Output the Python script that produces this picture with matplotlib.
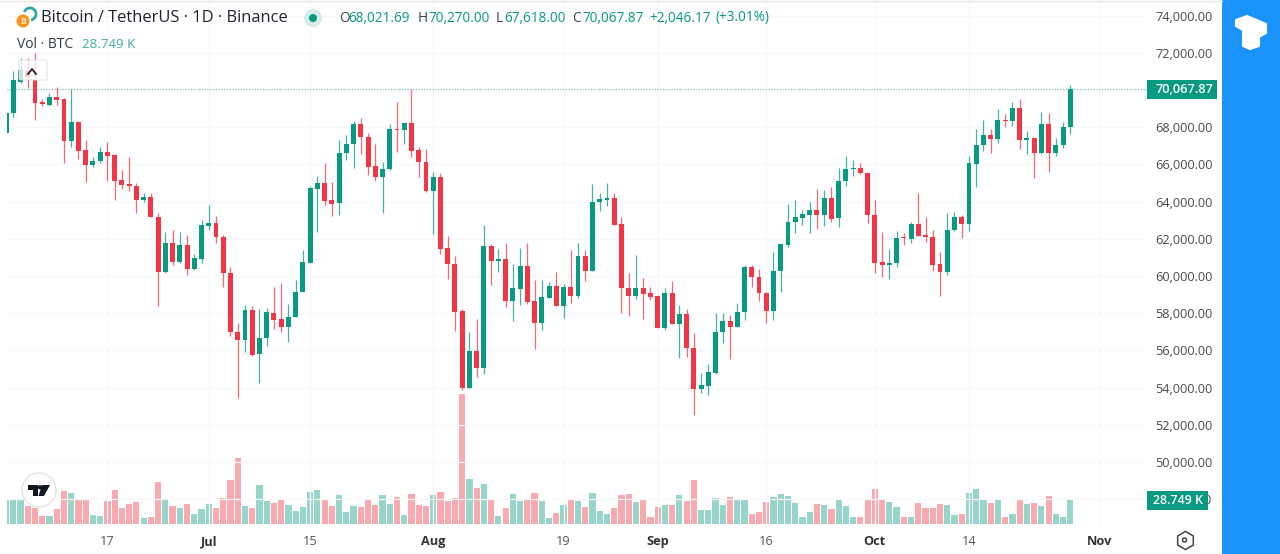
import matplotlib
matplotlib.use("Agg")
import matplotlib.pyplot as plt
from matplotlib.patches import Arc, Circle, FancyBboxPatch, Polygon, Rectangle
import numpy as np

# daily candles, oldest first
opens = [67690, 68750, 70450, 71040, 70540, 69340, 69190, 69600, 69500, 67280, 68260, 66770,
         65970, 66170, 66670, 66490, 65140, 64950, 64840, 64090, 64230, 63150, 60220, 61790,
         60770, 61670, 60360, 60910, 62690, 62870, 62120, 60180, 57010, 56560, 58170, 55790,
         56650, 58030, 57690, 57280, 57780, 59160, 60720, 64680, 64980, 64090, 63910, 66600,
         67100, 68170, 67490, 65910, 65300, 65730, 67900, 67850, 68210, 66770, 66130, 64590,
         65340, 61490, 60650, 58120, 53960, 55970, 55070, 61630, 60820, 60900, 58670, 59300,
         60560, 58660, 57470, 58800, 59480, 58390, 59430, 58940, 61090, 60290, 63980, 64100,
         64180, 62780, 59370, 58940, 59340, 59070, 58940, 57220, 59090, 57420, 57940, 56150,
         53910, 54090, 54770, 56970, 57600, 57280, 58050, 60470, 59950, 59090, 58140, 60250,
         61670, 62900, 63140, 63300, 63550, 63280, 64210, 63100, 65130, 65730, 65810, 65560,
         63300, 60770, 60610, 60680, 62080, 61970, 62800, 62200, 62120, 60630, 60230, 62470,
         63190, 62800, 66020, 67030, 67580, 67370, 68410, 68330, 69030, 67330, 67400, 66600,
         68150, 66630, 67030, 68021.69]
highs = [68800, 71040, 71700, 71700, 71970, 69520, 69820, 70180, 69550, 70040, 68350, 67310,
         66380, 66950, 67220, 66560, 65700, 66420, 65020, 64480, 64480, 63370, 62380, 62470,
         62350, 62200, 61180, 63010, 63820, 63230, 62200, 60470, 57490, 58440, 58390, 58210,
         58260, 59430, 59610, 58500, 59790, 61400, 64840, 65380, 66090, 65070, 67310, 67580,
         68350, 68480, 67710, 67100, 66150, 68170, 69370, 68300, 70040, 66950, 66810, 65610,
         65520, 62150, 61080, 58210, 57010, 57670, 62740, 61720, 61430, 61790, 60650, 61490,
         61760, 59790, 59790, 59700, 60230, 59570, 61400, 61760, 61400, 64950, 64440, 64980,
         64440, 63190, 60180, 61130, 59880, 59390, 58980, 59340, 59750, 58440, 58230, 56950,
         54770, 55270, 58030, 58030, 57900, 58570, 60590, 60590, 60360, 59160, 61270, 61720,
         63870, 64090, 63550, 64000, 64700, 64620, 64770, 65790, 66470, 66240, 66060, 65560,
         64090, 62350, 61430, 62420, 62330, 62920, 64480, 63150, 62470, 61270, 63400, 63460,
         63280, 66450, 67900, 68390, 67900, 68960, 68710, 69350, 69500, 67800, 67440, 68800,
         68750, 67420, 68300, 70270]
lows = [67600, 68570, 70360, 70090, 68390, 69140, 69140, 69190, 66060, 66920, 66270, 65070,
        65880, 66060, 65130, 64090, 64660, 64590, 63410, 63980, 63150, 58390, 60140, 60590,
        60680, 60050, 60320, 60680, 62470, 61790, 59390, 56770, 53420, 55930, 55700, 54230,
        56260, 57130, 57010, 56470, 57780, 59120, 60680, 62380, 63820, 63230, 63280, 66240,
        65790, 66560, 65430, 65110, 63410, 65700, 66650, 67100, 66420, 65300, 64530, 62260,
        61180, 59820, 57060, 53870, 53960, 54550, 54730, 59520, 60230, 58320, 57600, 58440,
        58500, 56080, 57100, 58800, 58390, 57720, 58530, 58800, 59750, 60290, 63510, 63780,
        62740, 57990, 57850, 58750, 57670, 58710, 57220, 57100, 57400, 55570, 55630, 52510,
        53730, 53600, 54730, 56380, 55520, 57280, 57640, 59390, 58670, 57460, 57640, 59160,
        61540, 62330, 62740, 62330, 62510, 62690, 62920, 62650, 64840, 65390, 65470, 62830,
        60140, 59930, 59820, 60470, 61670, 61760, 62150, 61850, 60290, 58940, 60040, 62440,
        62030, 62440, 64770, 66740, 66630, 67170, 67990, 68080, 66830, 66560, 65250, 66560,
        65570, 66450, 66860, 67618]
closes = [68760, 70540, 71080, 70720, 69280, 69270, 69610, 69460, 67280, 68260, 66740, 65970,
          66180, 66670, 66450, 65110, 64910, 64840, 64090, 64230, 63150, 60220, 61760, 60770,
          61670, 60360, 60950, 62740, 62870, 62080, 60180, 57010, 56560, 58170, 55750, 56690,
          58050, 57640, 57280, 57810, 59160, 60770, 64710, 64980, 64050, 63870, 66630, 67100,
          68170, 67460, 65880, 65300, 65750, 67890, 67830, 68210, 66740, 66110, 64570, 65340,
          61450, 60650, 58080, 53960, 55970, 55070, 61610, 60790, 60900, 58670, 59340, 60560,
          58620, 57460, 58850, 59480, 58390, 59430, 58940, 61090, 60290, 63980, 64120, 64180,
          62760, 59370, 58940, 59340, 59030, 58890, 57220, 59070, 57420, 57940, 56150, 53910,
          54140, 54820, 57010, 57580, 57280, 58070, 60500, 59930, 59070, 58140, 60270, 61720,
          62920, 63150, 63320, 63550, 63280, 64210, 63080, 65130, 65730, 65810, 65520, 63280,
          60720, 60590, 60720, 62060, 62030, 62800, 62170, 62080, 60590, 60230, 62470, 63150,
          62800, 66060, 67040, 67580, 67370, 68390, 68330, 69030, 67310, 67400, 66600, 68150,
          66630, 67060, 68010, 70067.87]
# volume in thousands of BTC
volumes = [30.0, 30.0, 29.2, 21.9, 19.8, 9.7, 9.7, 17.8, 40.5, 37.3, 28.8, 28.8,
           10.9, 9.7, 27.9, 41.7, 19.8, 24.3, 26.3, 7.7, 8.9, 51.4, 30.8, 22.3,
           19.0, 24.3, 12.2, 17.8, 24.3, 19.0, 32.0, 53.5, 79.8, 22.3, 19.0, 47.4,
           27.9, 25.1, 30.0, 23.1, 15.8, 21.1, 38.5, 41.7, 30.0, 22.3, 35.2, 14.6,
           22.3, 21.1, 30.8, 23.1, 35.2, 24.3, 32.4, 10.9, 36.5, 23.1, 22.3, 35.2,
           38.5, 27.9, 32.0, 158.0, 54.3, 43.7, 48.2, 30.8, 10.1, 19.0, 36.0, 27.9,
           28.8, 37.3, 27.9, 7.7, 13.8, 23.1, 30.8, 27.9, 21.1, 37.3, 15.8, 12.2,
           19.8, 35.2, 36.0, 26.7, 28.8, 8.9, 21.1, 23.1, 23.1, 35.2, 27.9, 53.5,
           16.6, 16.6, 32.0, 23.1, 33.2, 30.8, 29.6, 12.2, 14.6, 26.3, 33.2, 36.0,
           34.0, 25.1, 8.9, 14.6, 24.3, 23.1, 17.8, 28.8, 22.3, 8.9, 8.9, 29.6,
           42.9, 30.8, 26.3, 21.1, 8.1, 8.9, 25.5, 19.8, 19.8, 24.3, 23.1, 11.3,
           12.2, 37.3, 42.9, 29.6, 25.5, 28.8, 8.9, 12.2, 30.8, 24.3, 25.5, 21.9,
           34.0, 12.2, 8.9, 28.749]

price_ticks = [48000, 50000, 52000, 54000, 56000, 58000, 60000, 62000, 64000, 66000, 68000, 70000, 72000, 74000]
day_ticks = [14, 28, 42, 59, 77, 90, 105, 120, 133, 151]
day_labels = ["17", "Jul", "15", "Aug", "19", "Sep", "16", "Oct", "14", "Nov"]
month_labels = ["Jul", "Aug", "Sep", "Oct", "Nov"]

GREEN = "#089981"
RED = "#F23645"
GRID = "#f7f7f9"
LABEL = "#3a3f4a"
plt.rcParams["font.family"] = ["Open Sans", "DejaVu Sans"]

W, H = 1280, 554
fig = plt.figure(figsize=(W / 100, H / 100), dpi=100, facecolor="white")

# chart area in pixels: x 7..1147, y 1..527
ax = fig.add_axes([7 / W, 1 - 527 / H, 1140 / W, 526 / H])
PX_PRICE = 53.76
PX_DAY = 7.24
ax.set_xlim(0.13, 0.13 + 1140 / PX_DAY)
ax.set_ylim(60000 + (276 - 527) * PX_PRICE, 60000 + (276 - 1) * PX_PRICE)

days = np.arange(len(opens))
o = np.array(opens)
c = np.array(closes)
up = c >= o
cols = [GREEN if u else RED for u in up]

# volume sits in its own scale on the same area
vol_ax = ax.twinx()
PX_VOL = 1.215
vol_ax.set_ylim((524 - 527) * PX_VOL, (524 - 1) * PX_VOL)
vol_ax.bar(days, volumes, width=0.86, color=cols, alpha=0.42, linewidth=0)
vol_ax.axis("off")

ax.set_zorder(vol_ax.get_zorder() + 1)
ax.patch.set_visible(False)
vol_ax.patch.set_visible(False)

ax.vlines(days, lows, highs, colors=cols, linewidth=0.9, alpha=0.75, zorder=3)
ax.bar(days, np.maximum(np.abs(c - o), 50), bottom=np.minimum(o, c), width=0.68,
       color=cols, linewidth=0, zorder=4)
ax.axhline(closes[-1], color=GREEN, linestyle=(0, (1, 1.5)), linewidth=0.8, alpha=0.6, zorder=2)

ax.yaxis.tick_right()
ax.set_yticks(price_ticks)
ax.set_yticklabels([f"{p:,.2f}" for p in price_ticks], fontsize=9.2, color="#4a4a4a")
ax.set_xticks(day_ticks)
ax.set_xticklabels(day_labels, fontsize=9.2, color="#555555")
for lab in ax.get_xticklabels():
    if lab.get_text() in month_labels:
        lab.set_fontweight("bold")
        lab.set_color("#333333")
ax.tick_params(axis="both", length=0)
ax.tick_params(axis="y", pad=5.8)
ax.tick_params(axis="x", pad=6)
ax.grid(True, color=GRID, linewidth=0.9, zorder=0)
ax.set_axisbelow(True)
for s in ax.spines.values():
    s.set_visible(False)

# everything else is drawn on a full figure overlay in pixel coordinates
ov = fig.add_axes([0, 0, 1, 1], zorder=10)
ov.set_xlim(0, W)
ov.set_ylim(H, 0)
ov.axis("off")

ov.plot([0, 1222], [0.5, 0.5], color="#e6e6e6", linewidth=1)
ov.add_patch(Rectangle((1222, 0), 58, H, color="#1a94fb", linewidth=0))
ov.add_patch(Polygon([(1236, 20), (1247, 16), (1266, 24), (1266, 33), (1259, 37), (1259, 46), (1250, 49),
                      (1243, 46), (1243, 30), (1236, 26)], closed=True, facecolor="white",
                     edgecolor="white", linewidth=1.5, joinstyle="round"))

# header
ov.add_patch(Arc((30, 14), 12, 12, theta1=200, theta2=80, color="#2aa6a0", linewidth=2))
ov.add_patch(Circle((23, 21), 6.5, color="#f7931a", linewidth=0))
ov.text(23, 21, "B", ha="center", va="center", fontsize=6, color="#fde7c8", fontweight="bold")
ov.text(41, 18, "Bitcoin / TetherUS · 1D · Binance", fontsize=11.9, color="#1f2430", va="center")
ov.add_patch(Circle((313, 18), 9, color="#d5ede9", linewidth=0))
ov.add_patch(Circle((313, 18), 4, color=GREEN, linewidth=0))

parts = [(339, "O", LABEL), (348.5, "68,021.69", GREEN), (418, "H", LABEL), (428, "70,270.00", GREEN),
         (496, "L", LABEL), (504, "67,618.00", GREEN), (572, "C", LABEL), (582, "70,067.87", GREEN),
         (649, "+2,046.17", GREEN), (715, "(+3.01%)", GREEN)]
for x, s, col in parts:
    ov.text(x, 18, s, fontsize=9.8, color=col, va="center")

ov.text(17, 44, "Vol · BTC", fontsize=10, color="#333a45", va="center")
ov.text(82, 44, "28.749 K", fontsize=9.6, color="#3fb0a0", va="center")

# collapse button
ov.add_patch(FancyBboxPatch((19, 60), 28, 20, boxstyle="round,pad=0,rounding_size=2", facecolor="white",
                            edgecolor="#dddddd", alpha=0.75, linewidth=0.8))
ov.plot([28, 32, 36], [74, 69, 74], color="#222222", linewidth=1.3)

# price and volume labels
ov.add_patch(Rectangle((1147, 80), 70, 19, color=GREEN, linewidth=0))
ov.text(1184, 89.5, f"{closes[-1]:,.2f}", ha="center", va="center", fontsize=9.2, color="white", fontweight="semibold")
ov.add_patch(Rectangle((1147, 491), 61, 19, color=GREEN, linewidth=0))
ov.text(1178, 500.5, "28.749 K", ha="center", va="center", fontsize=9, color="white", fontweight="semibold")

# settings icon
ov.plot(1184.5, 540, marker="h", markersize=13, markerfacecolor="none", markeredgecolor="#444444", markeredgewidth=1.1)
ov.add_patch(Circle((1184.5, 540), 2, facecolor="none", edgecolor="#444444", linewidth=1.1))

# tradingview badge
ov.add_patch(Circle((39, 490), 17, facecolor="white", edgecolor="#e4e4e4", linewidth=1))
ov.add_patch(Polygon([(28, 485), (38, 485), (38, 496), (33, 496), (33, 490), (28, 490)], closed=True,
                     color="#131722", linewidth=0))
ov.add_patch(Polygon([(42, 485), (50, 485), (44, 496), (38.5, 496)], closed=True, color="#131722", linewidth=0))
ov.add_patch(Circle((40, 487.3), 2.2, color="#131722", linewidth=0))

fig.savefig("out.png", dpi=100, facecolor="white")
